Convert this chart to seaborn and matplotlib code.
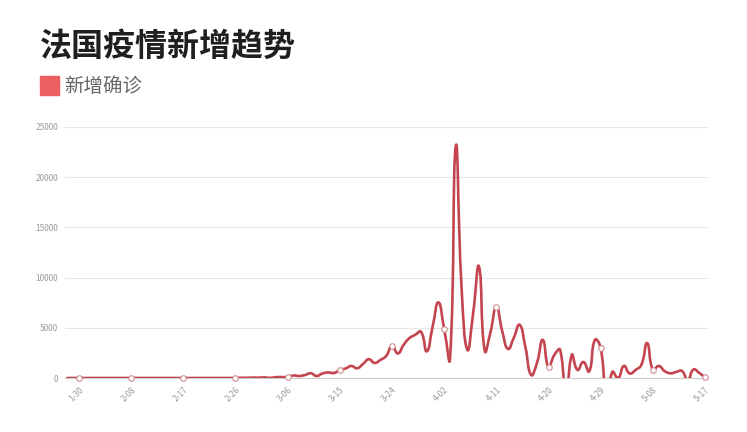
import numpy as np
import pandas as pd

import matplotlib
matplotlib.use("Agg")
import matplotlib.pyplot as plt
from matplotlib.path import Path
from matplotlib.patches import PathPatch, Rectangle
import seaborn as sns

#####################################
### DATA
#####################################
# daily new confirmed cases, France, 1-28 .. 5-17
start_date = "2020-01-28"
new_cases = [
    1, 1, 0, 1, 0, 0, 0, 0, 0, 0,               # 1-28 .. 2-06
    0, 5, 0, 0, 0, 0, 0, 0, 1, 0,               # 2-07 .. 2-16
    0, 0, 0, 0, 0, 0, 0, 0, 2, 4,               # 2-17 .. 2-26
    20, 19, 43, 30, 61, 13, 84, 92, 100, 250,   # 2-27 .. 3-07
    200, 300, 470, 200, 450, 550, 500, 800, 950, 1200,      # 3-08 .. 3-17
    970, 1400, 1870, 1500, 1800, 2200, 3200, 2450, 3300, 3970,  # 3-18 .. 3-27
    4300, 4600, 2650, 5100, 7530, 4870, 1900, 23100, 9000, 2800,  # 3-28 .. 4-06
    6500, 11100, 2700, 4600, 7100, 4700, 2900, 4000, 5300, 3100,  # 4-07 .. 4-16
    300, 1500, 3800, 1070, 2300, 2800, -2500, 2300, 800, 1600,    # 4-17 .. 4-26
    650, 3800, 2970, -2500, 600, 0, 1200, 450, 800, 1300,         # 4-27 .. 5-06
    3470, 800, 1200, 700, 470, 600, 700, -200, 850, 500,          # 5-07 .. 5-16
    50,                                                           # 5-17
]
tick_labels = ["1-30", "2-08", "2-17", "2-26", "3-06", "3-15", "3-24",
               "4-02", "4-11", "4-20", "4-29", "5-08", "5-17"]
y_ticks = [0, 5000, 10000, 15000, 20000, 25000]

title = "法国疫情新增趋势"
series_name = "新增确诊"

dates = pd.date_range(start_date, periods=len(new_cases), freq="D")
df = pd.DataFrame({
    "idx": np.arange(len(new_cases)),
    "label": dates.strftime("%-m-%d"),
    "value": new_cases,
})

line_color = "#c4444f"
legend_color = "#ec5f60"

#####################################
### PLOT
#####################################
sns.set_style("white")
plt.rcParams["font.family"] = ["Noto Sans CJK SC", "DejaVu Sans"]

fig = plt.figure(figsize=(7.47, 4.32), dpi=100)
ax = fig.add_axes([65 / 747, 1 - 378 / 432, (708 - 65) / 747, (378 - 127) / 432])

tick_idx = df.index[df["label"].isin(tick_labels)].tolist()
x0 = tick_idx[0]
ax.set_xlim(x0 - 2.4, df["idx"].iloc[-1] + 0.5)
ax.set_ylim(0, 25000)

# smooth line like echarts (smooth = 0.5), control points in pixel space
pts = ax.transData.transform(np.column_stack([df["idx"], df["value"]]))
smooth = 0.5
n = len(pts)
verts = [pts[0]]
codes = [Path.MOVETO]
cps = []
for i in range(n):
    p = pts[i]
    prev = pts[i - 1] if i > 0 else p
    nxt = pts[i + 1] if i < n - 1 else p
    vec = nxt - prev
    l0 = np.hypot(*(p - prev))
    l1 = np.hypot(*(nxt - p))
    r = l1 / (l0 + l1) if (l0 + l1) > 0 else 0.5
    cps.append((p - vec * smooth * (1 - r), p + vec * smooth * r))
for i in range(n - 1):
    verts += [cps[i][1], cps[i + 1][0], pts[i + 1]]
    codes += [Path.CURVE4] * 3
verts = ax.transData.inverted().transform(np.array(verts))
ax.add_patch(PathPatch(Path(verts, codes), fill=False, edgecolor=line_color,
                       linewidth=1.9, zorder=3, capstyle="round", joinstyle="round"))

sns.scatterplot(data=df.loc[tick_idx], x="idx", y="value", ax=ax,
                s=16, color="white", edgecolor="#d08a90", linewidth=0.8,
                zorder=4, clip_on=False)

ax.set_yticks(y_ticks)
ax.set_yticklabels([str(v) for v in y_ticks])
ax.set_xticks(tick_idx)
ax.set_xticklabels(tick_labels, rotation=45, ha="right", va="top",
                   rotation_mode="anchor")
ax.tick_params(axis="both", length=0, labelsize=6, colors="#9a9a9a", pad=5)
ax.yaxis.grid(True, color="#e6e6e6", linewidth=0.8)
ax.xaxis.grid(False)
for s in ["top", "right", "left"]:
    ax.spines[s].set_visible(False)
ax.spines["bottom"].set_color("#cccccc")
ax.spines["bottom"].set_linewidth(0.8)
ax.set_xlabel("")
ax.set_ylabel("")

fig.text(40 / 747, 1 - 47 / 432, title, fontsize=23, fontweight="bold",
         color="#1f1f1f", ha="left", va="center")
fig.patches.append(Rectangle((40 / 747, 1 - 95 / 432), 19 / 747, 19 / 432,
                             transform=fig.transFigure, color=legend_color))
fig.text(64 / 747, 1 - 86 / 432, series_name, fontsize=14, color="#666666",
         ha="left", va="center")

fig.savefig("out.png", dpi=100)
plt.close()
